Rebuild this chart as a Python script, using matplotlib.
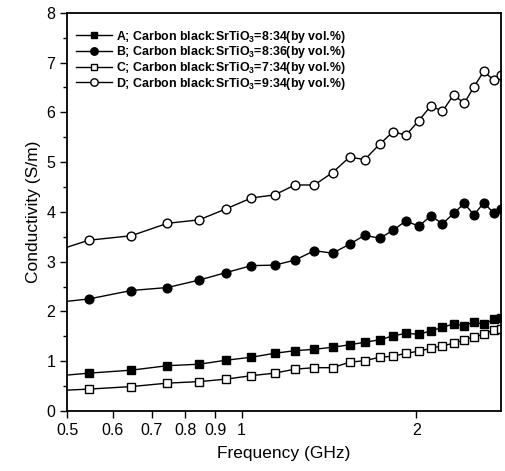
import matplotlib
matplotlib.use('Agg')
import matplotlib.pyplot as plt
from matplotlib.ticker import NullFormatter, NullLocator

# frequency (GHz); first point lies just left of the axis window
freq = [0.445, 0.545, 0.645, 0.745, 0.845, 0.94, 1.04, 1.14, 1.235, 1.335,
        1.435, 1.535, 1.63, 1.73, 1.825, 1.92, 2.02, 2.12, 2.22, 2.32,
        2.42, 2.515, 2.615, 2.72, 2.8]

sig_A = [0.67, 0.76, 0.82, 0.91, 0.94, 1.02, 1.08, 1.16, 1.21, 1.24, 1.28, 1.33,
         1.38, 1.43, 1.51, 1.56, 1.54, 1.61, 1.68, 1.75, 1.71, 1.79, 1.74, 1.84, 1.86]
sig_B = [2.14, 2.25, 2.42, 2.48, 2.63, 2.78, 2.92, 2.93, 3.03, 3.22, 3.17, 3.35,
         3.53, 3.47, 3.63, 3.82, 3.71, 3.92, 3.76, 3.97, 4.17, 3.94, 4.18, 3.98, 4.05]
sig_C = [0.39, 0.44, 0.49, 0.56, 0.59, 0.64, 0.71, 0.76, 0.84, 0.87, 0.87, 0.98,
         1.01, 1.08, 1.10, 1.16, 1.20, 1.26, 1.31, 1.36, 1.43, 1.49, 1.54, 1.63, 1.65]
sig_D = [3.10, 3.43, 3.52, 3.77, 3.84, 4.06, 4.28, 4.34, 4.54, 4.54, 4.79, 5.10,
         5.05, 5.36, 5.61, 5.54, 5.83, 6.13, 6.02, 6.35, 6.18, 6.51, 6.82, 6.65, 6.75]

labels = ['A; Carbon black:SrTiO$_3$=8:34(by vol.%)',
          'B; Carbon black:SrTiO$_3$=8:36(by vol.%)',
          'C; Carbon black:SrTiO$_3$=7:34(by vol.%)',
          'D; Carbon black:SrTiO$_3$=9:34(by vol.%)']

xticks = [0.5, 0.6, 0.7, 0.8, 0.9, 1, 2]
xticklabels = ['0.5', '0.6', '0.7', '0.8', '0.9', '1', '2']

plt.rcParams['font.family'] = ['Liberation Sans', 'DejaVu Sans']
plt.rcParams['mathtext.fontset'] = 'custom'
plt.rcParams['mathtext.rm'] = 'Liberation Sans:bold'

fig = plt.figure(figsize=(5.05, 4.71), dpi=100)
ax = fig.add_axes([0.1327, 0.1274, 0.8593, 0.8456])

kw = dict(color='black', lw=1.0)
ax.plot(freq, sig_A, marker='s', ms=5.5, mfc='black', mec='black', label=labels[0], **kw)
ax.plot(freq, sig_B, marker='o', ms=6.3, mfc='black', mec='black', label=labels[1], **kw)
ax.plot(freq, sig_C, marker='s', ms=5.5, mfc='white', mec='black', mew=1.0, label=labels[2], **kw)
ax.plot(freq, sig_D, marker='o', ms=6.3, mfc='white', mec='black', mew=1.0, label=labels[3], **kw)

ax.set_xscale('log')
ax.set_xlim(0.5, 2.8)
ax.set_ylim(0, 8)
ax.xaxis.set_major_locator(plt.FixedLocator(xticks))
ax.xaxis.set_major_formatter(plt.FixedFormatter(xticklabels))
ax.xaxis.set_minor_locator(NullLocator())
ax.xaxis.set_minor_formatter(NullFormatter())
ax.set_yticks(range(0, 9))
ax.set_yticks([i + 0.5 for i in range(8)], minor=True)
ax.tick_params(which='major', direction='out', length=5, width=1, labelsize=11.5)
ax.tick_params(which='minor', direction='out', length=3, width=1)
ax.tick_params(top=False, right=False)
for s in ax.spines.values():
    s.set_linewidth(1.3)

ax.set_xlabel('Frequency (GHz)', fontsize=12.5, labelpad=6)
ax.set_ylabel('Conductivity (S/m)', fontsize=12.5, labelpad=4)

leg = ax.legend(loc='upper left', bbox_to_anchor=(0.01, 0.972), frameon=False,
                numpoints=1, handlelength=2.9, handletextpad=0.3, labelspacing=-0.03,
                borderaxespad=0, markerscale=0.85,
                prop={'weight': 'bold', 'size': 8.9})

plt.savefig('out.png', dpi=100)
